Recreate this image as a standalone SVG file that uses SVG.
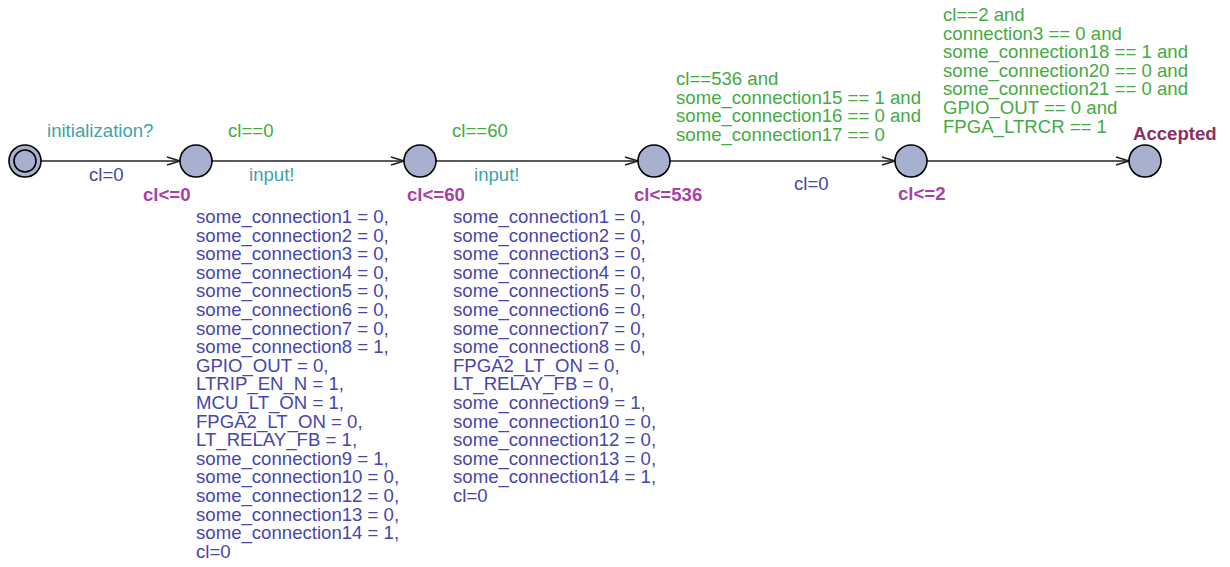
<svg xmlns="http://www.w3.org/2000/svg" width="1230" height="567" viewBox="0 0 1230 567">
  <style>
    text { font-family: "Liberation Sans", Arial, sans-serif; font-size: 18.6px; }
    .loc { fill: #a8b0cf; stroke: #000; stroke-width: 1.6; }
    .edge { stroke: #222; stroke-width: 1.6; fill: none; }
    .guard { fill: #44aa44; }
    .sync { fill: #3fa3a8; }
    .upd { fill: #4646ad; }
    .inv { fill: #a63fa6; font-weight: bold; }
    .name { fill: #8c2f5f; font-weight: bold; }
  </style>
  <defs>
    <marker id="arrow" markerUnits="userSpaceOnUse" markerWidth="16" markerHeight="12" viewBox="-14 -6 16 12" refX="0" refY="0" orient="auto">
      <path d="M-13,-4 L0,0 L-13,4" fill="none" stroke="#222" stroke-width="1.5"/>
    </marker>
  </defs>

  <!-- transitions -->
  <g id="edges">
    <line class="edge" x1="41" y1="161" x2="180" y2="161" marker-end="url(#arrow)"/>
    <line class="edge" x1="212" y1="161" x2="404" y2="161" marker-end="url(#arrow)"/>
    <line class="edge" x1="436" y1="161" x2="638" y2="161" marker-end="url(#arrow)"/>
    <line class="edge" x1="670" y1="161" x2="895" y2="161" marker-end="url(#arrow)"/>
    <line class="edge" x1="927" y1="161" x2="1129" y2="161" marker-end="url(#arrow)"/>
  </g>

  <!-- edge labels -->
  <g id="edge-labels">
    <text class="sync" x="47" y="137">initialization?</text>
    <text class="upd" x="89" y="181">cl=0</text>

    <text class="guard" x="228" y="137">cl==0</text>
    <text class="sync" x="249" y="181">input!</text>
    <text class="upd" x="196" y="223">
      <tspan x="196" dy="0">some_connection1 = 0,</tspan>
      <tspan x="196" dy="18.6">some_connection2 = 0,</tspan>
      <tspan x="196" dy="18.6">some_connection3 = 0,</tspan>
      <tspan x="196" dy="18.6">some_connection4 = 0,</tspan>
      <tspan x="196" dy="18.6">some_connection5 = 0,</tspan>
      <tspan x="196" dy="18.6">some_connection6 = 0,</tspan>
      <tspan x="196" dy="18.6">some_connection7 = 0,</tspan>
      <tspan x="196" dy="18.6">some_connection8 = 1,</tspan>
      <tspan x="196" dy="18.6">GPIO_OUT = 0,</tspan>
      <tspan x="196" dy="18.6">LTRIP_EN_N = 1,</tspan>
      <tspan x="196" dy="18.6">MCU_LT_ON = 1,</tspan>
      <tspan x="196" dy="18.6">FPGA2_LT_ON = 0,</tspan>
      <tspan x="196" dy="18.6">LT_RELAY_FB = 1,</tspan>
      <tspan x="196" dy="18.6">some_connection9 = 1,</tspan>
      <tspan x="196" dy="18.6">some_connection10 = 0,</tspan>
      <tspan x="196" dy="18.6">some_connection12 = 0,</tspan>
      <tspan x="196" dy="18.6">some_connection13 = 0,</tspan>
      <tspan x="196" dy="18.6">some_connection14 = 1,</tspan>
      <tspan x="196" dy="18.6">cl=0</tspan>
    </text>

    <text class="guard" x="452" y="137">cl==60</text>
    <text class="sync" x="474" y="181">input!</text>
    <text class="upd" x="453" y="223">
      <tspan x="453" dy="0">some_connection1 = 0,</tspan>
      <tspan x="453" dy="18.6">some_connection2 = 0,</tspan>
      <tspan x="453" dy="18.6">some_connection3 = 0,</tspan>
      <tspan x="453" dy="18.6">some_connection4 = 0,</tspan>
      <tspan x="453" dy="18.6">some_connection5 = 0,</tspan>
      <tspan x="453" dy="18.6">some_connection6 = 0,</tspan>
      <tspan x="453" dy="18.6">some_connection7 = 0,</tspan>
      <tspan x="453" dy="18.6">some_connection8 = 0,</tspan>
      <tspan x="453" dy="18.6">FPGA2_LT_ON = 0,</tspan>
      <tspan x="453" dy="18.6">LT_RELAY_FB = 0,</tspan>
      <tspan x="453" dy="18.6">some_connection9 = 1,</tspan>
      <tspan x="453" dy="18.6">some_connection10 = 0,</tspan>
      <tspan x="453" dy="18.6">some_connection12 = 0,</tspan>
      <tspan x="453" dy="18.6">some_connection13 = 0,</tspan>
      <tspan x="453" dy="18.6">some_connection14 = 1,</tspan>
      <tspan x="453" dy="18.6">cl=0</tspan>
    </text>

    <text class="guard" x="676" y="85">
      <tspan x="676" dy="0">cl==536 and</tspan>
      <tspan x="676" dy="18.6">some_connection15 == 1 and</tspan>
      <tspan x="676" dy="18.6">some_connection16 == 0 and</tspan>
      <tspan x="676" dy="18.6">some_connection17 == 0</tspan>
    </text>
    <text class="upd" x="794" y="190">cl=0</text>

    <text class="guard" x="943" y="21">
      <tspan x="943" dy="0">cl==2 and</tspan>
      <tspan x="943" dy="18.6">connection3 == 0 and</tspan>
      <tspan x="943" dy="18.6">some_connection18 == 1 and</tspan>
      <tspan x="943" dy="18.6">some_connection20 == 0 and</tspan>
      <tspan x="943" dy="18.6">some_connection21 == 0 and</tspan>
      <tspan x="943" dy="18.6">GPIO_OUT == 0 and</tspan>
      <tspan x="943" dy="18.6">FPGA_LTRCR == 1</tspan>
    </text>
  </g>

  <!-- locations -->
  <g id="init">
    <circle class="loc" cx="25" cy="161" r="16"/>
    <circle cx="25" cy="161" r="11" fill="none" stroke="#000" stroke-width="1.6"/>
  </g>
  <g id="loc1">
    <circle class="loc" cx="196" cy="161" r="16"/>
    <text class="inv" x="143" y="201">cl&lt;=0</text>
  </g>
  <g id="loc2">
    <circle class="loc" cx="420" cy="161" r="16"/>
    <text class="inv" x="407" y="201">cl&lt;=60</text>
  </g>
  <g id="loc3">
    <circle class="loc" cx="654" cy="161" r="16"/>
    <text class="inv" x="634" y="201">cl&lt;=536</text>
  </g>
  <g id="loc4">
    <circle class="loc" cx="911" cy="161" r="16"/>
    <text class="inv" x="898" y="200">cl&lt;=2</text>
  </g>
  <g id="accepted">
    <circle class="loc" cx="1145" cy="161" r="16"/>
    <text class="name" x="1133" y="140">Accepted</text>
  </g>
</svg>
